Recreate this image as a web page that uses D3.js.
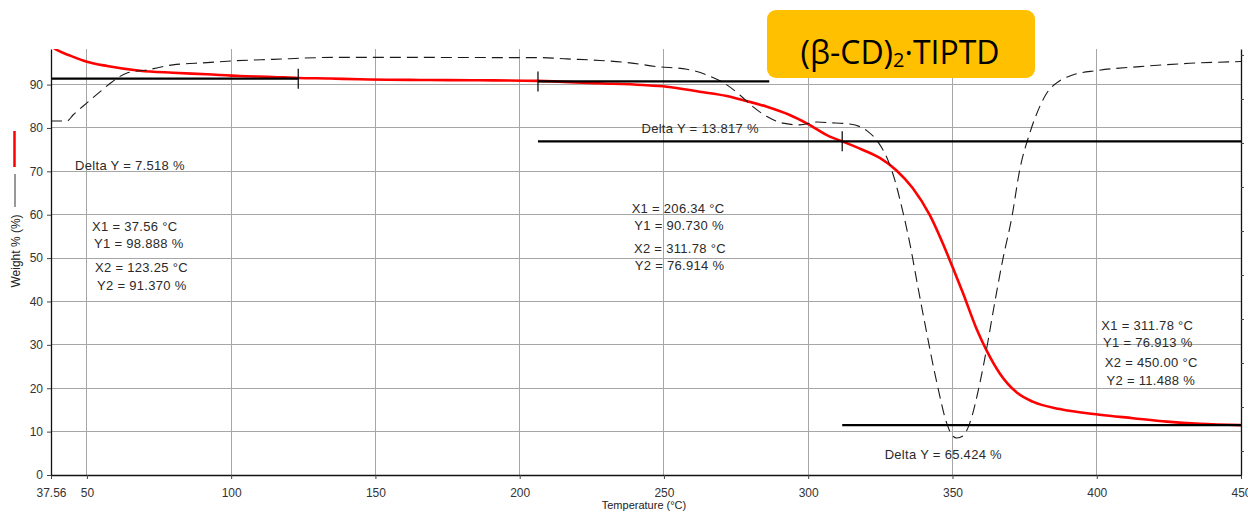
<!DOCTYPE html>
<html><head><meta charset="utf-8">
<script src="https://cdn.jsdelivr.net/npm/d3@7"></script>
<style>
html,body{margin:0;padding:0;background:#fff;}
svg{display:block;}
</style></head><body>
<svg id="chart" width="1248" height="513"></svg>
<script>
// ---------- data ----------
const tgTemp = [37.56, 39.6, 44.1, 50.0, 57.0, 68.4, 79.8, 91.6, 103.0, 114.5, 123.25, 134.2, 144.6, 165.4, 186.2, 206.34, 226.8, 242.7, 251.0, 262.4, 271.8, 277.3, 285.7, 293.6, 299.5, 307.5, 311.78, 319.0, 324.8, 330.7, 336.2, 342.1, 347.9, 350.0, 353.6, 358.4, 361.9, 366.4, 372.3, 377.8, 387.2, 401.0, 412.5, 424.3, 435.7, 450.0];
const tgWeight = [98.89, 97.97, 96.7, 95.27, 94.28, 93.2, 92.74, 92.37, 91.98, 91.75, 91.52, 91.4, 91.22, 91.06, 90.99, 90.85, 90.3, 89.9, 89.51, 88.36, 87.37, 86.45, 84.9, 82.99, 81.07, 77.99, 76.91, 74.92, 73.08, 70.15, 66.16, 59.94, 51.4, 48.0, 42.0, 33.6, 28.6, 23.4, 19.0, 16.9, 15.2, 13.9, 13.1, 12.3, 11.8, 11.49];

const dtgTemp = [37.56, 43.1, 45.2, 50.0, 54.5, 58.7, 63.9, 70.8, 79.8, 91.6, 100.6, 114.5, 136.7, 158.5, 193.1, 207.0, 216.4, 227.8, 238.2, 247.5, 257.9, 264.9, 271.8, 276.3, 280.8, 285.7, 291.2, 297.1, 303.0, 307.5, 314.4, 320.3, 324.1, 327.6, 330.0, 332.4, 335.2, 338.0, 340.4, 344.6, 348.0, 349.8, 351.5, 353.6, 356.0, 359.5, 362.2, 364.0, 367.4, 370.6, 373.3, 376.8, 380.2, 382.7, 386.1, 391.7, 400.0, 414.9, 432.2, 450.0];
const dtgValue = [-0.300, -0.300, -0.273, -0.218, -0.168, -0.123, -0.082, -0.068, -0.045, -0.035, -0.027, -0.020, -0.011, -0.011, -0.012, -0.012, -0.018, -0.025, -0.036, -0.053, -0.065, -0.091, -0.136, -0.182, -0.235, -0.280, -0.310, -0.318, -0.305, -0.308, -0.314, -0.344, -0.394, -0.477, -0.568, -0.690, -0.855, -1.053, -1.218, -1.491, -1.673, -1.727, -1.741, -1.732, -1.673, -1.491, -1.309, -1.173, -0.932, -0.736, -0.523, -0.355, -0.236, -0.173, -0.127, -0.091, -0.071, -0.053, -0.038, -0.030];

const xTicks = [37.56, 50, 100, 150, 200, 250, 300, 350, 400, 450];
const yTicks = [0, 10, 20, 30, 40, 50, 60, 70, 80, 90];
const y2Ticks = [-1.8, -1.6, -1.4, -1.2, -1.0, -0.8, -0.6, -0.4, -0.2, 0.0];

// step-analysis levels: [level (%), from (°C), to (°C)]
const stepLevels = [[91.37, 37.56, 123.25], [90.73, 206.34, 286.5], [76.914, 206.34, 450], [11.488, 311.78, 450]];
// markers: [temperature, level]
const stepMarkers = [[123.25, 91.37], [206.34, 90.73], [311.78, 76.914]];

// annotation texts, anchored in data coordinates (start temperature, baseline weight)
const annoText = ["Delta Y = 7.518 %", "X1 = 37.56 °C", "Y1 = 98.888 %", "X2 = 123.25 °C", "Y2 = 91.370 %",
  "Delta Y = 13.817 %", "X1 = 206.34 °C", "Y1 = 90.730 %", "X2 = 311.78 °C", "Y2 = 76.914 %",
  "X1 = 311.78 °C", "Y1 = 76.913 %", "X2 = 450.00 °C", "Y2 = 11.488 %", "Delta Y = 65.424 %"];
const annoT = [45.9, 51.8, 52.5, 52.8, 53.5, 242.2, 238.8, 239.7, 239.6, 239.9, 401.6, 402.2, 402.8, 403.4, 326.5];
const annoW = [70.4, 56.34, 52.42, 46.89, 42.74, 78.86, 60.42, 56.57, 51.2, 47.35, 33.52, 29.53, 24.92, 20.84, 3.78];

// ---------- layout ----------
const svg = d3.select("#chart");
const L = 51, R = 1241, T = 49, B = 475;
const x = d3.scaleLinear().domain([37.56, 450]).range([L, R]);
const y = d3.scaleLinear().domain([0, 98.2]).range([B, T]);
const y2 = d3.scaleLinear().domain([-1.909, 0.027]).range([B, T]);

const labelFont = "'Liberation Sans Narrow','Arial Narrow','Liberation Sans',Arial,sans-serif";
const textFont = "'Liberation Sans',Arial,sans-serif";

svg.append("defs").append("clipPath").attr("id", "plot")
  .append("rect").attr("x", L).attr("y", T).attr("width", R - L).attr("height", B - T);

// grid
const grid = svg.append("g").attr("shape-rendering", "crispEdges").attr("stroke", "#a6a6a6").attr("stroke-width", 1);
grid.selectAll("line.v").data(xTicks.filter(d => d > 40 && d < 450)).join("line")
  .attr("x1", d => x(d)).attr("x2", d => x(d)).attr("y1", T).attr("y2", B);
grid.selectAll("line.h").data(yTicks.filter(d => d > 0)).join("line")
  .attr("x1", L).attr("x2", R).attr("y1", d => y(d)).attr("y2", d => y(d));

// curves
const plot = svg.append("g").attr("clip-path", "url(#plot)");
const dtgLine = d3.line().x(d => x(d[0])).y(d => y2(d[1])).curve(d3.curveMonotoneX);
const tgLine = d3.line().x(d => x(d[0])).y(d => y(d[1])).curve(d3.curveMonotoneX);

plot.append("path").datum(d3.zip(tgTemp, tgWeight)).attr("d", tgLine)
  .attr("fill", "none").attr("stroke", "#ff0000").attr("stroke-width", 2.6);
plot.append("path").datum(d3.zip(dtgTemp, dtgValue)).attr("d", dtgLine)
  .attr("fill", "none").attr("stroke", "#1a1a1a").attr("stroke-width", 1.1).attr("stroke-dasharray", "11,6");

// step lines
const steps = svg.append("g").attr("stroke", "#000");
steps.selectAll("line.s").data(stepLevels).join("line")
  .attr("x1", d => x(d[1])).attr("x2", d => x(d[2])).attr("y1", d => y(d[0])).attr("y2", d => y(d[0]))
  .attr("stroke-width", 2.2);
steps.selectAll("line.m").data(stepMarkers).join("line").attr("class", "m")
  .attr("x1", d => x(d[0])).attr("x2", d => x(d[0])).attr("y1", d => y(d[1]) - 10).attr("y2", d => y(d[1]) + 10)
  .attr("stroke-width", 1.2);

// axes
const gx = svg.append("g").attr("transform", `translate(0,${B})`)
  .call(d3.axisBottom(x).tickValues(xTicks).tickSize(4).tickSizeOuter(0).tickPadding(9)
    .tickFormat(d => d === 37.56 ? "37.56" : d3.format("d")(d)));
const gy = svg.append("g").attr("transform", `translate(${L},0)`)
  .call(d3.axisLeft(y).tickValues(yTicks).tickSize(4).tickSizeOuter(0).tickPadding(4));
const gy2 = svg.append("g").attr("transform", `translate(${R},0)`)
  .call(d3.axisRight(y2).tickValues(y2Ticks).tickSize(3).tickSizeOuter(0).tickFormat(""));
[gx, gy, gy2].forEach(g => {
  g.selectAll("text").attr("font-family", labelFont).attr("font-size", 12).attr("fill", "#333");
  g.select(".domain").attr("stroke", "#111").attr("stroke-width", 1.3);
  g.selectAll(".tick line").attr("stroke", "#444");
});

// axis titles + legend
svg.append("text").attr("x", 644).attr("y", 509).attr("text-anchor", "middle")
  .attr("font-family", textFont).attr("font-size", 11).attr("fill", "#222").text("Temperature (°C)");
svg.append("text").attr("transform", "translate(20,251) rotate(-90)").attr("text-anchor", "middle")
  .attr("font-family", textFont).attr("font-size", 12).attr("fill", "#222").text("Weight % (%)");
svg.append("line").attr("x1", 14.5).attr("x2", 14.5).attr("y1", 131).attr("y2", 167)
  .attr("stroke", "#ff0000").attr("stroke-width", 2.5);
svg.append("line").attr("x1", 15).attr("x2", 15).attr("y1", 174).attr("y2", 207)
  .attr("stroke", "#333").attr("stroke-width", 1);

// annotation texts
svg.append("g").selectAll("text").data(d3.range(annoText.length)).join("text")
  .attr("x", i => x(annoT[i])).attr("y", i => y(annoW[i]))
  .attr("font-family", textFont).attr("font-size", 13).attr("letter-spacing", 0.3)
  .attr("fill", "#2a2a2a").text(i => annoText[i]);

// title box
const tb = svg.append("g");
tb.append("rect").attr("x", 767).attr("y", 10).attr("width", 268).attr("height", 68).attr("rx", 9)
  .attr("fill", "#FFC000");
const tt = tb.append("text").attr("x", 900).attr("y", 64).attr("text-anchor", "middle")
  .attr("font-family", "'Open Sans','Noto Sans',sans-serif").attr("font-size", 32).attr("fill", "#000");
tt.append("tspan").text("(β-CD)");
tt.append("tspan").attr("font-size", 20).attr("dy", 3).text("2");
tt.append("tspan").attr("dy", -3).text("·TIPTD");
</script>
</body></html>
